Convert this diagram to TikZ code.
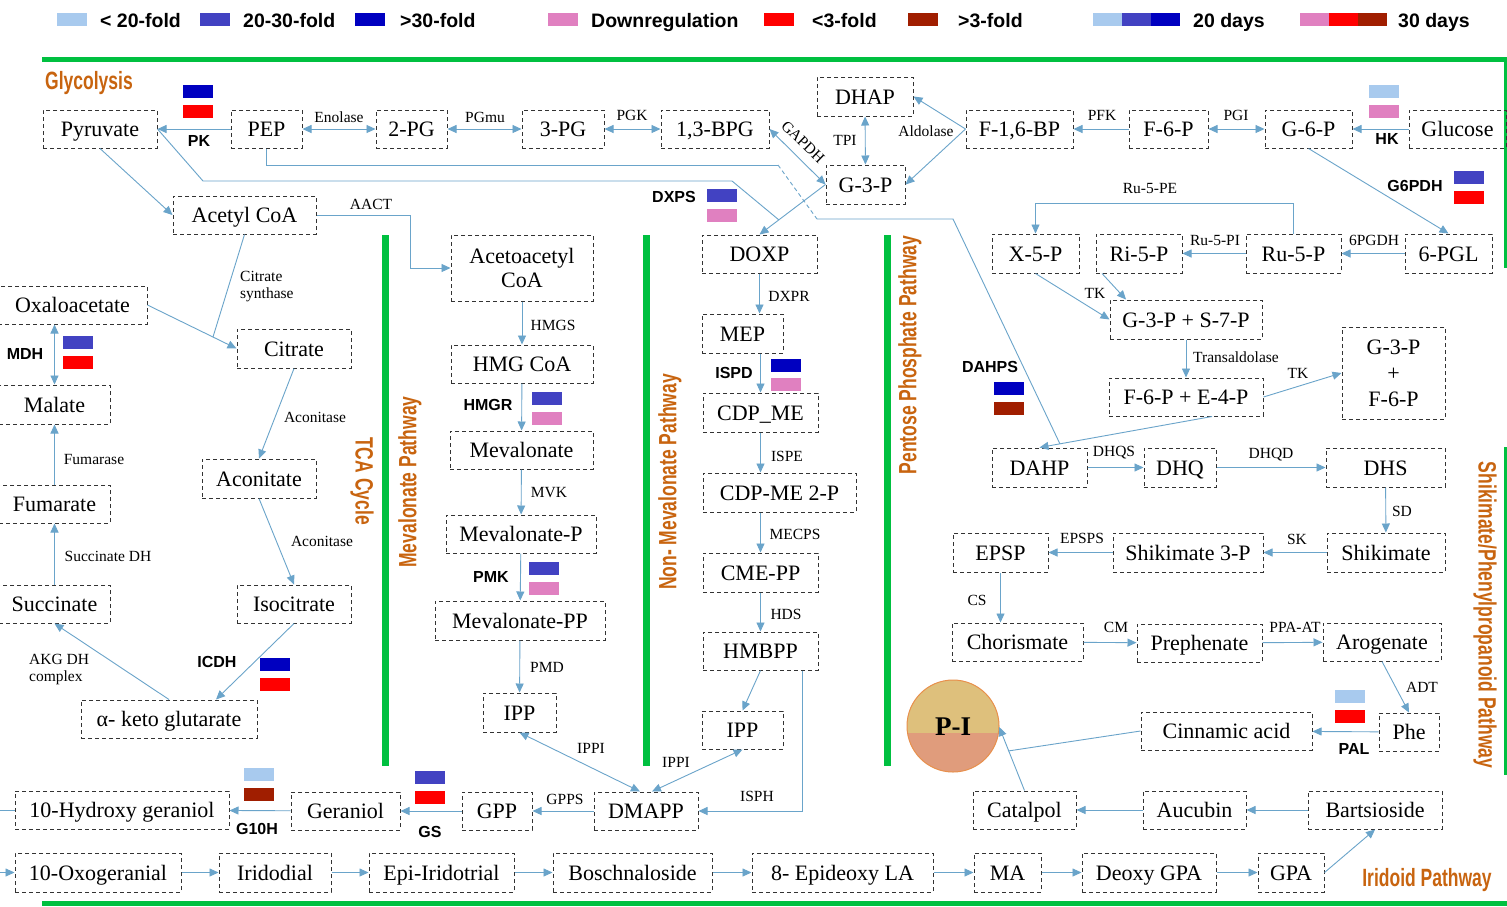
\documentclass[tikz,border=0pt]{standalone}
\usepackage{fontspec}
\setmainfont{Liberation Serif}
\newfontfamily\arialf{Liberation Sans}
\newfontfamily\pathf[FakeStretch=0.7]{Liberation Sans}
\usetikzlibrary{arrows.meta,calc}
\definecolor{lbc}{HTML}{A8CAEE}
\definecolor{mbc}{HTML}{4242C2}
\definecolor{dbc}{HTML}{0000C0}
\definecolor{pkc}{HTML}{E080C0}
\definecolor{rdc}{HTML}{FF0000}
\definecolor{drc}{HTML}{A01E00}
\definecolor{grc}{HTML}{00C040}
\definecolor{pwc}{HTML}{C8640F}
\definecolor{arc}{HTML}{6AA4CA}
\definecolor{boxc}{HTML}{333333}
\definecolor{pitop}{HTML}{DEC07C}
\definecolor{pibot}{HTML}{E09C7C}
\definecolor{piedge}{HTML}{E8904C}
\newcommand\bx[6]{\node[nd, text height=15pt, text depth=0pt, minimum width=#4pt, minimum height=#5pt] (#1) at (#2,#3) {#6};}
\newcommand\cb[3]{\fill[#3] (#1,#2) rectangle ++(30,13);}
\begin{document}
\begin{tikzpicture}[x=1pt,y=-1pt, >={Triangle[length=9pt,width=8pt]},
 nd/.style={draw=boxc, dash pattern=on 4pt off 3pt, line width=1pt, inner sep=0pt, font=\fontsize{22}{24}\selectfont, align=center},
 lab/.style={font=\fontsize{15.5}{17}\selectfont, inner sep=0pt},
 enz/.style={font=\arialf\bfseries\fontsize{16}{18}\selectfont, inner sep=0pt},
 pw/.style={font=\pathf\bfseries\fontsize{25}{26}\selectfont, text=pwc, inner sep=0pt},
 leg/.style={font=\arialf\bfseries\fontsize{19.5}{21}\selectfont, inner sep=0pt, anchor=base west},
 cn/.style={draw=arc, line width=0.9pt},
 gbar/.style={draw=grc, line width=7pt},
 gline/.style={draw=grc, line width=5pt},
]
\useasboundingbox (0,0) rectangle (1507,906);
\fill[white] (0,0) rectangle (1507,906);

% ---------- legend ----------
\cb{57}{13}{lbc} \node[leg] (lg1) at (100,27) {< 20-fold};
\cb{200}{13}{mbc} \node[leg] (lg2) at (243,27) {20-30-fold};
\cb{355}{13}{dbc} \node[leg] (lg3) at (400,27) {>30-fold};
\cb{548}{13}{pkc} \node[leg] (lg4) at (591,27) {Downregulation};
\cb{764}{13}{rdc} \node[leg] (lg5) at (812,27) {<3-fold};
\cb{908}{13}{drc} \node[leg] (lg6) at (958,27) {>3-fold};
\fill[lbc] (1093,13) rectangle ++(29,13);
\fill[mbc] (1122,13) rectangle ++(29,13);
\fill[dbc] (1151,13) rectangle ++(29,13);
\node[leg] (lg7) at (1193,27) {20 days};
\fill[pkc] (1300,13) rectangle ++(29,13);
\fill[rdc] (1329,13) rectangle ++(29,13);
\fill[drc] (1358,13) rectangle ++(29,13);
\node[leg] (lg8) at (1398,27) {30 days};

% ---------- green frame lines ----------
\draw[gline] (42,59.5) -- (1507,59.5);
\draw[gline] (42,903.5) -- (1507,903.5);
\draw[grc, line width=2.5pt] (1505.5,59) -- (1505.5,268);
\draw[grc, line width=2.5pt] (1505.5,447) -- (1505.5,775);
\draw[gbar] (385,235) -- (385,766);
\draw[gbar] (646,235) -- (646,766);
\draw[gbar] (887,235) -- (887,766);

% ---------- pathway titles ----------
\node[pw, anchor=base west] (pwgly) at (45,89) {Glycolysis};
\node[pw, rotate=-90] (pwtca) at (362,481) {TCA Cycle};
\node[pw, rotate=90] (pwmev) at (410,482) {Mevalonate Pathway};
\node[pw, rotate=90] (pwnon) at (670,482) {Non- Mevalonate Pathway};
\node[pw, rotate=90] (pwpen) at (910,355) {Pentose Phosphate Pathway};
\node[pw, rotate=-90] (pwshk) at (1485,615) {Shikimate/Phenylpropanoid Pathway};
\node[pw] (pwiri) at (1427,880) {Iridoid Pathway};

% ---------- nodes ----------
\bx{Pyr}{100}{129}{114}{38}{Pyruvate}
\bx{PEP}{266.5}{129}{71}{38}{PEP}
\bx{PGb}{411.5}{129}{71}{38}{2-PG}
\bx{PGc}{563}{129}{82}{38}{3-PG}
\bx{BPG}{715}{129}{108}{38}{1,3-BPG}
\bx{DHAP}{865}{96.5}{96}{39}{DHAP}
\bx{G3P}{865.5}{184.5}{79}{39}{G-3-P}
\bx{F16}{1019.5}{129}{107}{38}{F-1,6-BP}
\bx{F6P}{1168.5}{129}{79}{38}{F-6-P}
\bx{G6P}{1308.5}{129}{87}{38}{G-6-P}
\bx{Glu}{1457.5}{129}{97}{38}{Glucose}
\bx{AcCoA}{244.5}{215}{143}{38}{Acetyl CoA}
\bx{X5P}{1035.5}{253.5}{87}{39}{X-5-P}
\bx{Ri5P}{1139}{253.5}{86}{39}{Ri-5-P}
\bx{Ru5P}{1293.5}{253.5}{95}{39}{Ru-5-P}
\bx{PGL}{1448.5}{253.5}{87}{39}{6-PGL}
\node[nd, minimum width=142pt, minimum height=66pt] (AcAc) at (522,268) {Acetoacetyl\\CoA};
\bx{DOXP}{759.5}{254}{115}{38}{DOXP}
\bx{Oxa}{72.5}{305}{149}{38}{Oxaloacetate}
\bx{Cit}{294}{348.5}{114}{39}{Citrate}
\bx{Mal}{54.5}{404.5}{111}{39}{Malate}
\bx{Aco}{259}{478.5}{114}{39}{Aconitate}
\bx{Fum}{54.5}{504}{111}{38}{Fumarate}
\bx{Suc}{54.5}{604}{111}{38}{Succinate}
\bx{Iso}{294}{604}{114}{38}{Isocitrate}
\bx{AKG}{169}{719}{176}{38}{α- keto glutarate}
\bx{HMG}{522}{364}{142}{38}{HMG CoA}
\bx{Mev}{521.5}{450}{143}{38}{Mevalonate}
\bx{MevP}{521}{534}{150}{38}{Mevalonate-P}
\bx{MevPP}{520}{620.5}{170}{39}{Mevalonate-PP}
\bx{IPPa}{519.5}{712.5}{73}{39}{IPP}
\bx{DMAPP}{646}{811}{104}{38}{DMAPP}
\bx{IPPb}{742.5}{730}{81}{38}{IPP}
\bx{HMBPP}{760.5}{651}{115}{38}{HMBPP}
\bx{MEP}{742.5}{333.5}{81}{39}{MEP}
\bx{CDPME}{760.5}{412.5}{115}{39}{CDP\_ME}
\bx{CDPb}{779.5}{492.5}{153}{39}{CDP-ME 2-P}
\bx{CMEPP}{760.5}{572.5}{115}{39}{CME-PP}
\bx{GPP}{497}{811}{70}{38}{GPP}
\bx{Ger}{345.5}{811}{109}{38}{Geraniol}
\bx{HG}{122}{810}{214}{38}{10-Hydroxy geraniol}
\bx{Oxo}{98}{872.5}{166}{39}{10-Oxogeranial}
\bx{Iri}{275}{872.5}{112}{39}{Iridodial}
\bx{Epi}{441.5}{872.5}{145}{39}{Epi-Iridotrial}
\bx{Bos}{632.5}{872.5}{159}{39}{Boschnaloside}
\bx{Epd}{842.5}{872.5}{181}{39}{8- Epideoxy LA}
\bx{MA}{1007.5}{872.5}{67}{39}{MA}
\bx{DGPA}{1149}{872.5}{134}{39}{Deoxy GPA}
\bx{GPA}{1291}{872.5}{66}{39}{GPA}
\bx{Cat}{1024.5}{810}{103}{38}{Catalpol}
\bx{Auc}{1194.5}{810}{103}{38}{Aucubin}
\bx{Bar}{1375}{810}{134}{38}{Bartsioside}
\bx{Cin}{1226.5}{731}{171}{38}{Cinnamic acid}
\bx{Phe}{1409}{732}{60}{38}{Phe}
\bx{Cho}{1017.5}{642}{131}{38}{Chorismate}
\bx{Pre}{1199.5}{643}{125}{38}{Prephenate}
\bx{Aro}{1382}{642}{118}{38}{Arogenate}
\bx{GS7}{1186}{319.5}{152}{39}{G-3-P + S-7-P}
\bx{FE4}{1186}{397}{154}{38}{F-6-P + E-4-P}
\node[nd, minimum width=103pt, minimum height=92pt, font=\fontsize{22}{26}\selectfont] (GF) at (1393.5,373) {G-3-P\\+\\F-6-P};
\bx{DAHP}{1039.5}{467.5}{95}{39}{DAHP}
\bx{DHQ}{1180}{467.5}{72}{39}{DHQ}
\bx{DHS}{1385.5}{467.5}{119}{39}{DHS}
\bx{EPSP}{1000.5}{552.5}{95}{39}{EPSP}
\bx{S3P}{1188}{552.5}{150}{39}{Shikimate 3-P}
\bx{Shik}{1386}{552.5}{118}{39}{Shikimate}

% P-I circle
\begin{scope}
\clip (953,726) circle (46pt);
\fill[pibot] (900,670) rectangle (1010,780);
\fill[pitop] (900,670) rectangle (1010,733);
\end{scope}
\draw[piedge, line width=1pt] (953,726) circle (46pt);
\node[circle, minimum size=92pt, inner sep=0pt, font=\bfseries\fontsize{27}{28}\selectfont] (PI) at (953,727) {P-I};

% ---------- colour boxes ----------
\cb{183}{85}{dbc} \cb{183}{105}{rdc}
\cb{1369}{85}{lbc} \cb{1369}{105}{pkc}
\cb{1454}{171}{mbc} \cb{1454}{191}{rdc}
\cb{707}{189}{mbc} \cb{707}{209}{pkc}
\cb{63}{336}{mbc} \cb{63}{356}{rdc}
\cb{532}{392}{mbc} \cb{532}{412}{pkc}
\cb{529}{562}{mbc} \cb{529}{582}{pkc}
\cb{771}{359}{dbc} \cb{771}{378}{pkc}
\cb{260}{658}{dbc} \cb{260}{678}{rdc}
\cb{244}{768}{lbc} \cb{244}{788}{drc}
\cb{415}{771}{mbc} \cb{415}{791}{rdc}
\cb{994}{382}{dbc} \cb{994}{402}{drc}
\cb{1335}{690}{lbc} \cb{1335}{710}{rdc}

% ---------- connectors: glycolysis ----------
\draw[cn,->] (PEP) -- (Pyr);
\draw[cn,<->] (PEP) -- (PGb);
\draw[cn,<->] (PGb) -- (PGc);
\draw[cn,<->] (PGc) -- (BPG);
\draw[cn,<->] (BPG.east) -- (G3P.west);
\draw[cn,<->] (DHAP) -- (G3P);
\draw[cn,->] (F16.west) -- (DHAP.east);
\draw[cn,->] (F16.west) -- (G3P.east);
\draw[cn,->] (F6P) -- (F16);
\draw[cn,<->] (F6P) -- (G6P);
\draw[cn,->] (Glu) -- (G6P);
\draw[cn,->] (G6P.south) -- (PGL.north);
\draw[cn,->] (PGL) -- (Ru5P);
\draw[cn,->] (Ru5P) -- (Ri5P);
\draw[cn,->] (Ru5P.north) -- ++(0,-30) -| (X5P.north);
\draw[cn,->] (X5P.south) -- (GS7.west);
\draw[cn,->] ([xshift=-37pt]Ri5P.south) -- ([xshift=-60pt]GS7.north);
\draw[cn,->] (GS7) -- (FE4);
\draw[cn,->] (FE4.east) -- (GF.west);
\draw[cn,->] ([xshift=26pt]FE4.south) -- (DAHP.north);
\coordinate (pe1) at (266.5,165);
\coordinate (pe2) at (778,165);
\coordinate (pe3) at (817,219);
\coordinate (pe4) at (953,219);
\coordinate (pe5) at (1060,444);
\draw[cn] (PEP.south) -- (pe1) -- (pe2);
\draw[cn, dash pattern=on 4pt off 3pt] (pe2) -- (pe3);
\draw[cn] (pe3) -- (pe4) -- (pe5);
\coordinate (py1) at (203,181);
\coordinate (py2) at (732,181);
\coordinate (py3) at (779,220);
\draw[cn] (Pyr.east) -- (py1) -- (py2) -- (py3);
\draw[cn,->] (Pyr.south) -- (AcCoA.west);
\draw[cn,->] (AcCoA.east) -- (410,215) -- (410,268) -- (AcAc.west);

% ---------- TCA ----------
\draw[cn,->] (Oxa.east) -- (Cit.west);
\coordinate (cs1) at (213,337);
\draw[cn] (AcCoA.south) -- (cs1);
\draw[cn,<->] (Oxa.south -| Mal.north) -- (Mal.north);
\draw[cn,->] (Fum) -- (Mal);
\draw[cn,->] (Suc) -- (Fum);
\draw[cn,->] (AKG.north) -- (Suc.south);
\draw[cn,->] (Iso.south) -- ([xshift=47pt]AKG.north);
\draw[cn,->] (Cit.south) -- (Aco.north);
\draw[cn,->] (Aco.south) -- (Iso.north);

% ---------- mevalonate ----------
\draw[cn,->] (AcAc) -- (HMG);
\draw[cn,->] (HMG) -- (Mev);
\draw[cn,->] (Mev) -- (MevP);
\draw[cn,->] (MevP) -- (MevPP);
\draw[cn,->] (MevPP) -- (IPPa);
\draw[cn,<->] (IPPa.south) -- ([xshift=-6pt]DMAPP.north);
\draw[cn,<->] (IPPb.south) -- ([xshift=6pt]DMAPP.north);
\draw[cn,->] (HMBPP.south) -- (IPPb.north);
\draw[cn,->] ([xshift=42pt]HMBPP.south) |- (DMAPP.east);
\draw[cn,->] (DMAPP) -- (GPP);
\draw[cn,->] (GPP) -- (Ger);
\draw[cn,->] (Ger) -- (HG);
\draw[cn,->] (HG.west) -- ++(-20,0) |- (Oxo.west);

% ---------- non-mevalonate ----------
\draw[cn,->] (G3P.west) -- (DOXP.north);
\draw[cn,->] (DOXP.south) -- (DOXP.south |- MEP.north);
\draw[cn,->] (MEP.south -| CDPME.north) -- (CDPME.north);
\draw[cn,->] (CDPME.south) -- (CDPME.south |- CDPb.north);
\draw[cn,->] (CDPb.south -| CMEPP.north) -- (CMEPP.north);
\draw[cn,->] (CMEPP) -- (HMBPP);

% ---------- shikimate ----------
\draw[cn,->] (DAHP) -- (DHQ);
\draw[cn,->] (DHQ) -- (DHS);
\draw[cn,->] (DHS) -- (Shik);
\draw[cn,->] (Shik) -- (S3P);
\draw[cn,->] (S3P) -- (EPSP);
\draw[cn,->] (EPSP.south) -- (EPSP.south |- Cho.north);
\draw[cn,->] (Cho) -- (Pre);
\draw[cn,->] (Pre) -- (Aro);
\draw[cn,->] (Aro.south) -- (Phe.north);
\draw[cn,->] (Phe) -- (Cin);
\coordinate (ci1) at (1008,751);
\draw[cn] (Cin.west) -- (ci1);
\draw[cn,->] (Cat.north) -- (PI.east);
\draw[cn,->] (Bar) -- (Auc);
\draw[cn,->] (Auc) -- (Cat);
\draw[cn,->] (GPA.east) -- (Bar.south);

% ---------- iridoid chain ----------
\draw[cn,->] (Oxo) -- (Iri);
\draw[cn,->] (Iri) -- (Epi);
\draw[cn,->] (Epi) -- (Bos);
\draw[cn,->] (Bos) -- (Epd);
\draw[cn,->] (Epd) -- (MA);
\draw[cn,->] (MA) -- (DGPA);
\draw[cn,->] (DGPA) -- (GPA);

% ---------- enzyme labels ----------
\node[enz] (ePK) at (199,141) {PK};
\node[lab] (eEno) at (339,117) {Enolase};
\node[lab] (ePGm) at (485,117) {PGmu};
\node[lab] (ePGK) at (632,115) {PGK};
\node[lab, rotate=-44] (eGAP) at (803,142) {GAPDH};
\node[lab] (eTPI) at (845,140) {TPI};
\node[lab] (eAld) at (926,131) {Aldolase};
\node[lab] (ePFK) at (1102,115) {PFK};
\node[lab] (ePGI) at (1236,115) {PGI};
\node[enz] (eHK) at (1387,139) {HK};
\node[enz] (eG6) at (1415,186) {G6PDH};
\node[lab] (e6PG) at (1374,240) {6PGDH};
\node[lab] (eRPI) at (1215,240) {Ru-5-PI};
\node[lab] (eRPE) at (1150,188) {Ru-5-PE};
\node[lab] (eTK1) at (1095,293) {TK};
\node[lab] (eTal) at (1236,357) {Transaldolase};
\node[lab] (eTK2) at (1298,373) {TK};
\node[enz] (eDAH) at (990,367) {DAHPS};
\node[lab] (eDHQS) at (1114,453) {DHQS};
\node[lab] (eDHQD) at (1271,455) {DHQD};
\node[lab] (eSD) at (1402,511) {SD};
\node[lab] (eSK) at (1297,539) {SK};
\node[lab] (eEPS) at (1082,538) {EPSPS};
\node[lab] (eCS) at (977,600) {CS};
\node[lab] (eCM) at (1116,627) {CM};
\node[lab] (ePPA) at (1295,627) {PPA-AT};
\node[lab] (eADT) at (1422,687) {ADT};
\node[enz] (ePAL) at (1354,749) {PAL};
\node[lab] (eAACT) at (371,204) {AACT};
\node[lab, align=left, anchor=west] (eCSy) at (240,287) {Citrate\\synthase};
\node[enz] (eMDH) at (25,354) {MDH};
\node[lab] (eFum) at (94,459) {Fumarase};
\node[lab] (eSDH) at (108,556) {Succinate DH};
\node[lab] (eAc1) at (315,417) {Aconitase};
\node[lab] (eAc2) at (322,541) {Aconitase};
\node[lab, align=left, anchor=west] (eAKG) at (29,670) {AKG DH\\complex};
\node[enz] (eICD) at (217,662) {ICDH};
\node[lab] (eHMGS) at (553,325) {HMGS};
\node[enz] (eHMGR) at (488,405) {HMGR};
\node[lab] (eMVK) at (549,493) {MVK};
\node[enz] (ePMK) at (491,577) {PMK};
\node[lab] (ePMD) at (547,667) {PMD};
\node[lab] (eIP1) at (591,748) {IPPI};
\node[lab] (eIP2) at (676,762) {IPPI};
\node[lab] (eGPPS) at (565,799) {GPPS};
\node[lab] (eISPH) at (757,796) {ISPH};
\node[enz] (eDXPS) at (674,197) {DXPS};
\node[lab] (eDXPR) at (789,296) {DXPR};
\node[enz] (eISPD) at (734,373) {ISPD};
\node[lab] (eISPE) at (787,456) {ISPE};
\node[lab] (eMEC) at (795,534) {MECPS};
\node[lab] (eHDS) at (786,614) {HDS};
\node[enz] (eG10) at (257,829) {G10H};
\node[enz] (eGS) at (430,832) {GS};
\end{tikzpicture}
\end{document}
